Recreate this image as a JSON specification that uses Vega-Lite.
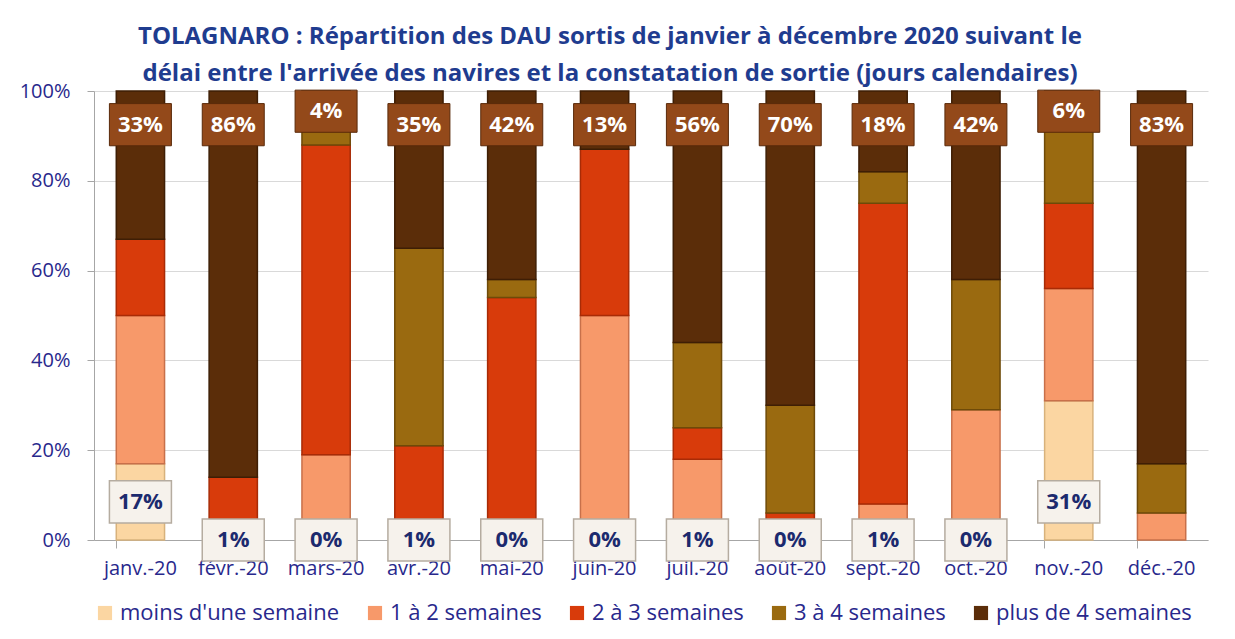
{
  "$schema": "https://vega.github.io/schema/vega-lite/v6.json",
  "autosize": {"type": "none"},
  "width": 1114,
  "height": 449,
  "padding": {"left": 94, "top": 91, "right": 27, "bottom": 99},
  "background": "white",
  "title": {
    "text": ["TOLAGNARO : Répartition des DAU sortis de janvier à décembre 2020 suivant le", "délai entre l'arrivée des navires et la constatation de sortie (jours calendaires)"],
    "font": "Open Sans", "fontSize": 24, "fontWeight": "bold", "color": "#1f3c8f",
    "lineHeight": 37, "anchor": "middle", "dx": -41, "offset": -5
  },
  "config": {
    "view": {"stroke": null},
    "axis": {"labelFont": "Open Sans", "labelFontSize": 20, "labelColor": "#28288c", "domainColor": "#a6a6a6", "tickColor": "#a6a6a6", "gridColor": "#d9d9d9", "title": null},
    "legend": {"labelFont": "Open Sans", "labelFontSize": 22, "labelColor": "#28288c", "labelLimit": 400}
  },
  "data": {"values": [
    {"m": "janv.-20", "cat": "moins d'une semaine", "k": 1, "v": 0.17},
    {"m": "janv.-20", "cat": "1 à 2 semaines", "k": 2, "v": 0.33},
    {"m": "janv.-20", "cat": "2 à 3 semaines", "k": 3, "v": 0.17},
    {"m": "janv.-20", "cat": "plus de 4 semaines", "k": 5, "v": 0.33},
    {"m": "févr.-20", "cat": "moins d'une semaine", "k": 1, "v": 0.01},
    {"m": "févr.-20", "cat": "2 à 3 semaines", "k": 3, "v": 0.13},
    {"m": "févr.-20", "cat": "plus de 4 semaines", "k": 5, "v": 0.86},
    {"m": "mars-20", "cat": "moins d'une semaine", "k": 1, "v": 0.0},
    {"m": "mars-20", "cat": "1 à 2 semaines", "k": 2, "v": 0.19},
    {"m": "mars-20", "cat": "2 à 3 semaines", "k": 3, "v": 0.69},
    {"m": "mars-20", "cat": "3 à 4 semaines", "k": 4, "v": 0.08},
    {"m": "mars-20", "cat": "plus de 4 semaines", "k": 5, "v": 0.04},
    {"m": "avr.-20", "cat": "moins d'une semaine", "k": 1, "v": 0.01},
    {"m": "avr.-20", "cat": "2 à 3 semaines", "k": 3, "v": 0.20},
    {"m": "avr.-20", "cat": "3 à 4 semaines", "k": 4, "v": 0.44},
    {"m": "avr.-20", "cat": "plus de 4 semaines", "k": 5, "v": 0.35},
    {"m": "mai-20", "cat": "moins d'une semaine", "k": 1, "v": 0.0},
    {"m": "mai-20", "cat": "2 à 3 semaines", "k": 3, "v": 0.54},
    {"m": "mai-20", "cat": "3 à 4 semaines", "k": 4, "v": 0.04},
    {"m": "mai-20", "cat": "plus de 4 semaines", "k": 5, "v": 0.42},
    {"m": "juin-20", "cat": "moins d'une semaine", "k": 1, "v": 0.0},
    {"m": "juin-20", "cat": "1 à 2 semaines", "k": 2, "v": 0.50},
    {"m": "juin-20", "cat": "2 à 3 semaines", "k": 3, "v": 0.37},
    {"m": "juin-20", "cat": "plus de 4 semaines", "k": 5, "v": 0.13},
    {"m": "juil.-20", "cat": "moins d'une semaine", "k": 1, "v": 0.01},
    {"m": "juil.-20", "cat": "1 à 2 semaines", "k": 2, "v": 0.17},
    {"m": "juil.-20", "cat": "2 à 3 semaines", "k": 3, "v": 0.07},
    {"m": "juil.-20", "cat": "3 à 4 semaines", "k": 4, "v": 0.19},
    {"m": "juil.-20", "cat": "plus de 4 semaines", "k": 5, "v": 0.56},
    {"m": "août-20", "cat": "moins d'une semaine", "k": 1, "v": 0.0},
    {"m": "août-20", "cat": "2 à 3 semaines", "k": 3, "v": 0.06},
    {"m": "août-20", "cat": "3 à 4 semaines", "k": 4, "v": 0.24},
    {"m": "août-20", "cat": "plus de 4 semaines", "k": 5, "v": 0.70},
    {"m": "sept.-20", "cat": "moins d'une semaine", "k": 1, "v": 0.01},
    {"m": "sept.-20", "cat": "1 à 2 semaines", "k": 2, "v": 0.07},
    {"m": "sept.-20", "cat": "2 à 3 semaines", "k": 3, "v": 0.67},
    {"m": "sept.-20", "cat": "3 à 4 semaines", "k": 4, "v": 0.07},
    {"m": "sept.-20", "cat": "plus de 4 semaines", "k": 5, "v": 0.18},
    {"m": "oct.-20", "cat": "moins d'une semaine", "k": 1, "v": 0.0},
    {"m": "oct.-20", "cat": "1 à 2 semaines", "k": 2, "v": 0.29},
    {"m": "oct.-20", "cat": "3 à 4 semaines", "k": 4, "v": 0.29},
    {"m": "oct.-20", "cat": "plus de 4 semaines", "k": 5, "v": 0.42},
    {"m": "nov.-20", "cat": "moins d'une semaine", "k": 1, "v": 0.31},
    {"m": "nov.-20", "cat": "1 à 2 semaines", "k": 2, "v": 0.25},
    {"m": "nov.-20", "cat": "2 à 3 semaines", "k": 3, "v": 0.19},
    {"m": "nov.-20", "cat": "3 à 4 semaines", "k": 4, "v": 0.19},
    {"m": "nov.-20", "cat": "plus de 4 semaines", "k": 5, "v": 0.06},
    {"m": "déc.-20", "cat": "1 à 2 semaines", "k": 2, "v": 0.06},
    {"m": "déc.-20", "cat": "3 à 4 semaines", "k": 4, "v": 0.11},
    {"m": "déc.-20", "cat": "plus de 4 semaines", "k": 5, "v": 0.83}
  ]},
  "encoding": {
    "x": {
      "field": "m", "type": "nominal",
      "sort": ["janv.-20", "févr.-20", "mars-20", "avr.-20", "mai-20", "juin-20", "juil.-20", "août-20", "sept.-20", "oct.-20", "nov.-20", "déc.-20"],
      "scale": {"paddingInner": 0.48, "paddingOuter": 0.24},
      "axis": {"labelAngle": 0, "bandPosition": 0, "tickSize": 8, "labelPadding": 10, "domainColor": "#a6a6a6"}
    }
  },
  "layer": [
    {
      "mark": {"type": "bar", "strokeWidth": 1.5},
      "encoding": {
        "y": {
          "field": "v", "type": "quantitative", "stack": "zero",
          "scale": {"domain": [0, 1]},
          "axis": {"values": [0, 0.2, 0.4, 0.6, 0.8, 1], "format": ".0%", "tickSize": 7, "labelPadding": 17, "grid": true}
        },
        "order": {"field": "k", "type": "quantitative", "sort": "ascending"},
        "color": {
          "field": "cat", "type": "nominal",
          "scale": {
            "domain": ["moins d'une semaine", "1 à 2 semaines", "2 à 3 semaines", "3 à 4 semaines", "plus de 4 semaines"],
            "range": ["#fbd6a2", "#f7996a", "#d83b0b", "#9a6a10", "#5b2d09"]
          },
          "legend": {"orient": "bottom", "direction": "horizontal", "title": null, "symbolType": "square", "symbolSize": 200, "symbolStrokeWidth": 0, "columnPadding": 24, "offset": 24}
        },
        "stroke": {
          "field": "cat", "type": "nominal",
          "scale": {
            "domain": ["moins d'une semaine", "1 à 2 semaines", "2 à 3 semaines", "3 à 4 semaines", "plus de 4 semaines"],
            "range": ["#d8b27c", "#c8704a", "#a82b06", "#6e4a08", "#3e1e05"]
          },
          "legend": null
        }
      }
    },
    {
      "transform": [{"filter": "datum.cat === 'plus de 4 semaines' && datum.v >= 0.1"}],
      "encoding": {"y": {"datum": 0.925, "type": "quantitative"}},
      "layer": [
        {"mark": {"type": "point", "shape": "M-1,-0.68L1,-0.68L1,0.68L-1,0.68Z", "size": 3844, "filled": true, "fill": "#93491a", "stroke": "#5a2a0a", "strokeWidth": 1, "opacity": 1}},
        {"mark": {"type": "text", "font": "Open Sans", "fontSize": 22, "fontWeight": "bold", "color": "white", "baseline": "middle"}, "encoding": {"text": {"field": "v", "type": "quantitative", "format": ".0%"}}}
      ]
    },
    {
      "transform": [{"filter": "datum.cat === 'plus de 4 semaines' && datum.v < 0.1"}],
      "encoding": {"y": {"datum": 0.955, "type": "quantitative"}},
      "layer": [
        {"mark": {"type": "point", "shape": "M-1,-0.68L1,-0.68L1,0.68L-1,0.68Z", "size": 3844, "filled": true, "fill": "#93491a", "stroke": "#5a2a0a", "strokeWidth": 1, "opacity": 1}},
        {"mark": {"type": "text", "font": "Open Sans", "fontSize": 22, "fontWeight": "bold", "color": "white", "baseline": "middle"}, "encoding": {"text": {"field": "v", "type": "quantitative", "format": ".0%"}}}
      ]
    },
    {
      "transform": [{"filter": "datum.cat === \"moins d'une semaine\" && datum.v >= 0.1"}],
      "encoding": {"y": {"datum": 0.085, "type": "quantitative"}},
      "layer": [
        {"mark": {"type": "point", "shape": "M-1,-0.68L1,-0.68L1,0.68L-1,0.68Z", "size": 3844, "filled": true, "fill": "#f6f2ec", "stroke": "#b5aca0", "strokeWidth": 1.5, "opacity": 1}},
        {"mark": {"type": "text", "font": "Open Sans", "fontSize": 22, "fontWeight": "bold", "color": "#1c2a6e", "baseline": "middle"}, "encoding": {"text": {"field": "v", "type": "quantitative", "format": ".0%"}}}
      ]
    },
    {
      "transform": [{"filter": "datum.cat === \"moins d'une semaine\" && datum.v < 0.1"}],
      "encoding": {"y": {"datum": 0, "type": "quantitative"}},
      "layer": [
        {"mark": {"type": "point", "shape": "M-1,-0.68L1,-0.68L1,0.68L-1,0.68Z", "size": 3844, "filled": true, "fill": "#f6f2ec", "stroke": "#b5aca0", "strokeWidth": 1.5, "opacity": 1}},
        {"mark": {"type": "text", "font": "Open Sans", "fontSize": 22, "fontWeight": "bold", "color": "#1c2a6e", "baseline": "middle"}, "encoding": {"text": {"field": "v", "type": "quantitative", "format": ".0%"}}}
      ]
    }
  ]
}
